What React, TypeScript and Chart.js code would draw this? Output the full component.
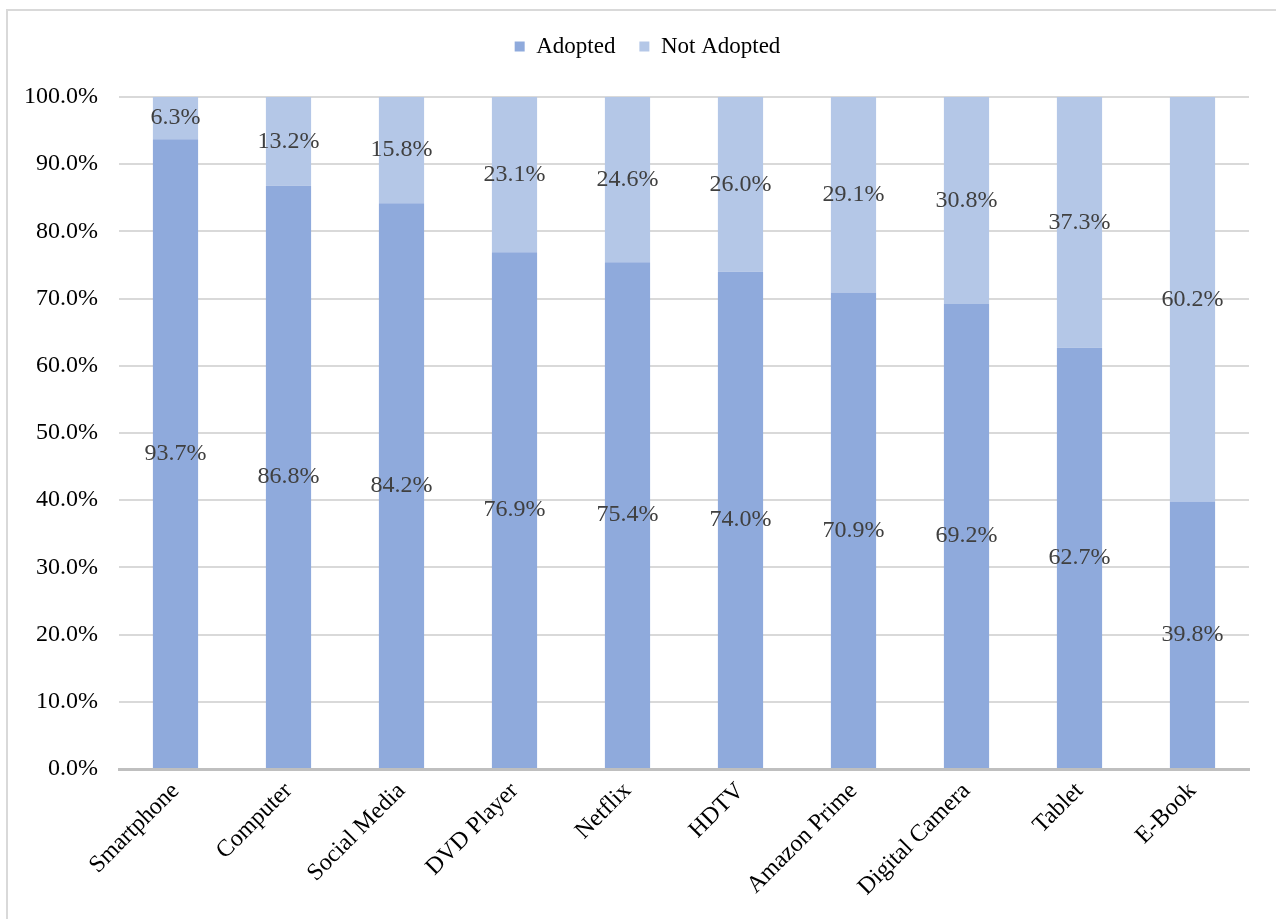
import React, { useEffect, useRef } from "react";
import { Chart, registerables } from "chart.js";

Chart.register(...registerables);

const categories = [
  "Smartphone",
  "Computer",
  "Social Media",
  "DVD Player",
  "Netflix",
  "HDTV",
  "Amazon Prime",
  "Digital Camera",
  "Tablet",
  "E-Book",
];
const adopted = [93.7, 86.8, 84.2, 76.9, 75.4, 74.0, 70.9, 69.2, 62.7, 39.8];
const notAdopted = [6.3, 13.2, 15.8, 23.1, 24.6, 26.0, 29.1, 30.8, 37.3, 60.2];
const seriesNames = ["Adopted", "Not Adopted"];

const FONT = "'Liberation Serif', 'Times New Roman', serif";
const FONT_SIZE = 24;

// Writes each segment's value in the middle of its bar segment.
const segmentLabels = {
  id: "segmentLabels",
  afterDatasetsDraw(chart: any) {
    const ctx = chart.ctx;
    ctx.save();
    ctx.font = `${FONT_SIZE}px ${FONT}`;
    ctx.fillStyle = "#404040";
    ctx.textAlign = "center";
    ctx.textBaseline = "middle";
    chart.data.datasets.forEach((ds: any, di: number) => {
      const meta = chart.getDatasetMeta(di);
      meta.data.forEach((bar: any, i: number) => {
        const v = ds.data[i];
        const yMid = (bar.y + bar.base) / 2;
        ctx.fillText(v.toFixed(1) + "%", bar.x, yMid);
      });
    });
    ctx.restore();
  },
};

// Leaves a fixed gap between the legend row and the plot area,
// and nudges the legend row a little to the right.
const legendSpacing = {
  id: "legendSpacing",
  afterInit(chart: any) {
    const legend = chart.legend;
    if (!legend) return;
    const fit = legend.fit.bind(legend);
    legend.fit = function () {
      fit();
      this.height = 86;
    };
  },
  afterLayout(chart: any) {
    const legend = chart.legend;
    if (!legend) return;
    legend.left += 23;
    legend.right += 23;
  },
};

export default function App() {
  const ref = useRef<HTMLCanvasElement>(null);

  useEffect(() => {
    if (!ref.current) return;
    const chart = new Chart(ref.current, {
      type: "bar",
      data: {
        labels: categories,
        datasets: [
          {
            label: seriesNames[0],
            data: adopted,
            backgroundColor: "#8FAADC",
            barPercentage: 0.8,
            categoryPercentage: 0.5,
          },
          {
            label: seriesNames[1],
            data: notAdopted,
            backgroundColor: "#B4C7E7",
            barPercentage: 0.8,
            categoryPercentage: 0.5,
          },
        ],
      },
      options: {
        animation: false,
        responsive: false,
        layout: { padding: { left: 0, right: 27, top: 11, bottom: 0 } },
        plugins: {
          legend: {
            position: "top",
            labels: {
              font: { family: FONT, size: 23 },
              color: "#000000",
              boxWidth: 10,
              boxHeight: 10,
              padding: 24,
            },
          },
          tooltip: { enabled: false },
        },
        scales: {
          x: {
            stacked: true,
            grid: { display: false, drawTicks: false },
            border: { color: "#BFBFBF", width: 3 },
            ticks: {
              font: { family: FONT, size: FONT_SIZE },
              color: "#000000",
              maxRotation: 45,
              minRotation: 45,
              padding: 8,
            },
            afterFit(scale: any) {
              scale.height = 150;
            },
          },
          y: {
            stacked: true,
            min: 0,
            max: 100,
            grid: { color: "#D9D9D9", lineWidth: 2, drawTicks: false },
            border: { display: false },
            ticks: {
              stepSize: 10,
              font: { family: FONT, size: FONT_SIZE },
              color: "#000000",
              padding: 21,
              callback: (v: any) => Number(v).toFixed(1) + "%",
            },
            afterFit(scale: any) {
              scale.width = 119;
            },
          },
        },
      },
      plugins: [segmentLabels, legendSpacing],
    });
    return () => chart.destroy();
  }, []);

  return (
    <div style={{ position: "fixed", left: 0, top: 0, width: 1276, height: 919, background: "#fff" }}>
      <div
        style={{
          position: "absolute",
          left: 6,
          top: 9,
          width: 1290,
          height: 930,
          border: "2px solid #D9D9D9",
          boxSizing: "border-box",
        }}
      />
      <canvas ref={ref} width={1276} height={919} style={{ position: "absolute", left: 0, top: 0 }} />
    </div>
  );
}
